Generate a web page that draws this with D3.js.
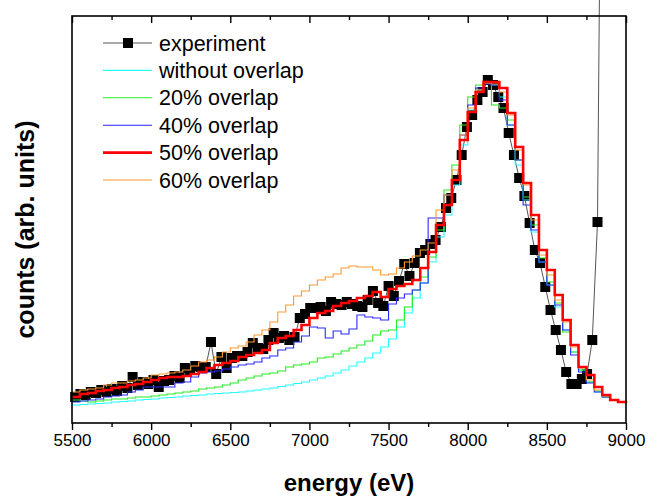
<!DOCTYPE html>
<html><head><meta charset="utf-8">
<script src="https://cdn.jsdelivr.net/npm/d3@7/dist/d3.min.js"></script>
<style>
html,body{margin:0;padding:0;background:#fff;}
svg{display:block;font-family:"Liberation Sans",Arial,sans-serif;}
</style></head>
<body>
<svg id="chart" width="659" height="497"></svg>
<script>
// ---- data (energy in eV, counts in arbitrary units) ----
const binEnergy = [5500,5550,5600,5650,5700,5750,5800,5850,5900,5950,6000,6050,6100,6150,6200,6250,6300,6350,6400,6450,6500,6550,6600,6650,6700,6750,6800,6850,6900,6950,7000,7050,7100,7150,7200,7250,7300,7350,7400,7450,7500,7550,7600,7650,7700,7750,7800,7850,7900,7950,8000,8050,8100,8150,8200,8250,8300,8350,8400,8450,8500,8550,8600,8650,8700,8750,8800,8850,8900,8950,9000];

const withoutOverlap = [18,18.5,19,19.5,20,21,21.5,22,23,23.5,24,25,25.5,26,27,27.5,28,29,29.5,30,30.5,31,32,33,34,35,36.5,38,39.5,41,43,45,47,50,53,57,61,65,70,76,84,96,110,125,140,161,186,208,238,278,313,333,340,338,326,298,258,223,191,161,138,116,93,71,53,41,31,26,23,21,20];

const overlap20 = [23,22,21,22,23,24,24,25,26,26,27,28,29,30,31,32,34,35,36,38,40,43,45,47,49,50,52,56,58,59,61,65,66,69,72,75,78,82,88,92,93,103,116,133,146,166,193,233,258,298,326,338,341,318,315,303,263,226,198,165,141,120,91,71,53,41,32,26,23,21,20];

const overlap40 = [21,22,23,24,26,27,28,31,33,36,36,36,36,40,41,46,50,51,52,54,56,58,59,61,65,67,73,75,81,87,96,95,85,92,89,94,108,106,105,103,119,125,129,133,140,205,205,228,243,288,318,335,339,338,323,298,263,218,193,161,138,118,93,68,51,40,31,26,23,21,20];

const overlap50 = [26,29,30,32,33,35,36,38,39,41,43,45,46,46,47,49,51,55,58,60,62,66,68,70,73,80,85,87,93,98,105,110,112,117,120,122,125,127,131,126,134,137,139,143,155,171,198,218,243,283,311,331,341,341,335,310,276,240,208,173,153,128,103,78,56,48,36,28,23,21,20];

const overlap60 = [31,33,34,35,38,40,40,42,43,45,48,49,50,51,53,57,61,63,66,71,75,77,81,88,93,101,111,118,127,132,138,143,146,149,155,157,156,156,153,148,149,155,161,167,173,180,213,228,253,288,315,333,340,339,331,308,273,238,203,168,148,123,101,76,55,43,33,27,23,21,20];

const expEnergy = [5520,5553,5586,5619,5652,5685,5718,5751,5784,5817,5850,5883,5916,5949,5982,6015,6048,6081,6114,6147,6180,6213,6246,6279,6312,6345,6378,6411,6444,6477,6510,6543,6576,6609,6642,6675,6708,6741,6774,6807,6840,6873,6906,6939,6972,7005,7038,7071,7104,7137,7170,7203,7236,7269,7302,7335,7368,7401,7434,7467,7500,7533,7566,7599,7632,7665,7698,7731,7764,7797,7830,7863,7896,7929,7962,7995,8028,8061,8094,8127,8160,8193,8226,8259,8292,8325,8358,8391,8424,8457,8490,8523,8556,8589,8622,8655,8688,8721,8754,8787,8820,8853];

const expCounts = [26,29,28,31,30,33,31,34,32,37,35,46,38,41,39,43,36,42,43,47,45,55,53,57,56,56,81,49,66,55,65,67,67,71,80,75,74,83,90,85,87,83,86,105,109,115,115,116,112,121,119,118,121,119,117,116,123,132,120,117,137,127,142,159,147,160,170,173,179,183,196,215,225,243,268,296,308,323,331,343,338,326,315,290,268,245,227,200,173,160,136,113,93,73,51,39,39,44,49,83,201,820];

const xTicksMajor = [5500,6000,6500,7000,7500,8000,8500,9000];
const xTicksMinor = [5750,6250,6750,7250,7750,8250,8750];

const seriesNames = ["without overlap","20% overlap","40% overlap","50% overlap","60% overlap"];
const seriesValues = [withoutOverlap, overlap20, overlap40, overlap50, overlap60];
const seriesColors = ["#22ffff","#22ee22","#2a2aff","#ff0000","#ff9933"];
const seriesWidths = [1.1,1.1,1.1,2.6,1.1];

// ---- drawing ----
const svg = d3.select("#chart");
const L = 72, R = 626, T = 16, B = 423;
const x = d3.scaleLinear().domain([5500, 9000]).range([L, R]);
const y = d3.scaleLinear().domain([0, 407]).range([B, T]);

// experiment (gray connecting line + black squares)
const expData = expEnergy.map((e, i) => ({e, v: expCounts[i]}));
svg.append("path")
  .datum(expData)
  .attr("fill", "none").attr("stroke", "#555").attr("stroke-width", 1)
  .attr("d", d3.line().x(d => x(d.e)).y(d => y(d.v)));
const sq = 10;
svg.append("g").selectAll("rect").data(expData.slice(0, expData.length - 1)).join("rect")
  .attr("x", d => x(d.e) - sq / 2).attr("y", d => y(d.v) - sq / 2)
  .attr("width", sq).attr("height", sq).attr("fill", "#000");

// simulated step curves
const stepLine = d3.line().x(d => x(d.e)).y(d => y(d.v)).curve(d3.curveStepAfter);
const order = [0, 1, 2, 4, 3];
order.forEach(k => {
  const data = binEnergy.map((e, i) => ({e, v: seriesValues[k][i]}));
  svg.append("path").datum(data)
    .attr("fill", "none").attr("stroke", seriesColors[k])
    .attr("stroke-width", seriesWidths[k]).attr("stroke-linejoin", "miter")
    .attr("d", stepLine);
});

// frame
svg.append("rect").attr("x", L).attr("y", T).attr("width", R - L).attr("height", B - T)
  .attr("fill", "none").attr("stroke", "#000").attr("stroke-width", 1.6);

// bottom axis (outward ticks)
const axB = svg.append("g").attr("transform", `translate(0,${B})`)
  .call(d3.axisBottom(x).tickValues(xTicksMajor).tickSize(7).tickSizeOuter(0).tickPadding(4).tickFormat(d3.format("d")));
axB.select(".domain").remove();
axB.selectAll("line").attr("stroke-width", 1.4);
axB.selectAll("text").attr("font-size", 17).attr("font-family", "Liberation Sans, Arial, sans-serif").attr("fill", "#000");
const axBm = svg.append("g").attr("transform", `translate(0,${B})`)
  .call(d3.axisBottom(x).tickValues(xTicksMinor).tickSize(4).tickFormat(""));
axBm.select(".domain").remove();
axBm.selectAll("line").attr("stroke-width", 1.4);

// top axis (inward ticks)
const axT = svg.append("g").attr("transform", `translate(0,${T})`)
  .call(d3.axisBottom(x).tickValues(xTicksMajor).tickSize(7).tickFormat(""));
axT.select(".domain").remove();
axT.selectAll("line").attr("stroke-width", 1.4);
const axTm = svg.append("g").attr("transform", `translate(0,${T})`)
  .call(d3.axisBottom(x).tickValues(xTicksMinor).tickSize(4).tickFormat(""));
axTm.select(".domain").remove();
axTm.selectAll("line").attr("stroke-width", 1.4);

// axis titles
svg.append("text").attr("x", (L + R) / 2).attr("y", 491).attr("text-anchor", "middle")
  .attr("font-size", 24).attr("font-weight", "bold").text("energy (eV)");
svg.append("text").attr("transform", `translate(34,${(T + B) / 2 + 10}) rotate(-90)`)
  .attr("text-anchor", "middle").attr("font-size", 25).attr("font-weight", "bold")
  .text("counts (arb. units)");

// legend
const legNames = ["experiment"].concat(seriesNames);
const legColors = ["#555"].concat(seriesColors);
const legWidths = [1].concat(seriesWidths);
const lg = svg.append("g");
legNames.forEach((name, i) => {
  const yy = 43 + i * 27.4;
  lg.append("line").attr("x1", 103).attr("x2", 152).attr("y1", yy).attr("y2", yy)
    .attr("stroke", legColors[i]).attr("stroke-width", legWidths[i]);
  if (i === 0) {
    lg.append("rect").attr("x", 128 - sq / 2).attr("y", yy - sq / 2).attr("width", sq).attr("height", sq).attr("fill", "#000");
  }
  lg.append("text").attr("x", 159).attr("y", yy + 7.5).attr("font-size", 21.5).attr("fill", "#000").text(name);
});
</script>
</body></html>
